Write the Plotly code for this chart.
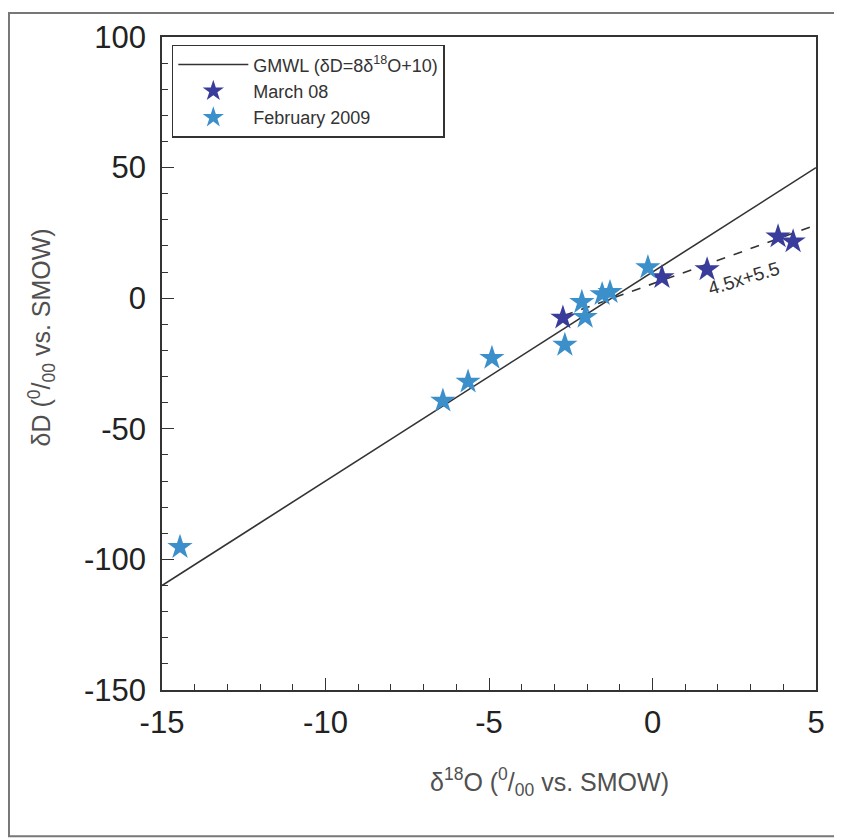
import plotly.graph_objects as go

# ---- data ----
march_x = [-2.74, 0.29, 1.67, 3.84, 4.30]
march_y = [-7.5, 8.0, 11.0, 23.6, 21.7]

feb_x = [-14.45, -6.41, -5.64, -4.91, -2.68, -2.16, -2.06, -1.54, -1.30, -0.14]
feb_y = [-95.3, -39.3, -32.0, -22.9, -17.9, -1.5, -7.2, 1.5, 2.3, 11.8]

gmwl_slope, gmwl_intercept = 8.0, 10.0
gmwl_x = [-15, 5]
gmwl_y = [gmwl_slope * v + gmwl_intercept for v in gmwl_x]

fit_slope, fit_intercept = 4.5, 5.5
fit_x = [-2.7, 5]
fit_y = [fit_slope * v + fit_intercept for v in fit_x]

x_ticks = [-15, -10, -5, 0, 5]
x_ticktext = ["-15", "-10", "-5", "0", "5"]
y_ticks = [-150, -100, -50, 0, 50, 100]
y_ticktext = ["-150", "-100", "-50", "0", "50", "100"]

DARK = "#3A3C9C"
LIGHT = "#3B8FCB"
FONT = "Liberation Sans, Arial, sans-serif"

fig = go.Figure()
fig.add_trace(go.Scatter(x=gmwl_x, y=gmwl_y, mode="lines",
                         line=dict(color="#333333", width=1.6),
                         name="GMWL (δD=8δ<sup>18</sup>O+10)"))
fig.add_trace(go.Scatter(x=fit_x, y=fit_y, mode="lines",
                         line=dict(color="#333333", width=1.6, dash="dash"),
                         showlegend=False))
fig.add_trace(go.Scatter(x=march_x, y=march_y, mode="markers",
                         marker=dict(symbol="star", size=19, color=DARK,
                                     line=dict(width=0)),
                         name="March 08"))
fig.add_trace(go.Scatter(x=feb_x, y=feb_y, mode="markers",
                         marker=dict(symbol="star", size=19, color=LIGHT,
                                     line=dict(width=0)),
                         name="February 2009"))

fig.add_annotation(x=2.77, y=7.6, text="4.5x+5.5", showarrow=False,
                   textangle=-17, font=dict(size=19, color="#333333", family=FONT))

# axis titles
fig.add_annotation(xref="paper", yref="paper", x=-0.214, y=0.54,
                   text="δD (<sup>0</sup>/<sub>00</sub> vs. SMOW)", showarrow=False,
                   textangle=-90, font=dict(size=25, color="#505050", family=FONT))
fig.add_annotation(xref="paper", yref="paper", x=0.593, y=-0.171,
                   text="δ<sup>18</sup>O (<sup>0</sup>/<sub>00</sub> vs. SMOW)",
                   showarrow=False, font=dict(size=25, color="#505050", family=FONT))

# outer frame
fig.add_shape(type="rect", xref="paper", yref="paper",
              x0=-0.234, x1=1.12, y0=-0.224, y1=1.0366,
              line=dict(color="#777777", width=2), layer="below")

axis_common = dict(showgrid=False, zeroline=False, showline=True, mirror=True,
                   linecolor="#333333", linewidth=1.6, ticks="inside",
                   tickcolor="#333333", tickwidth=1.4,
                   tickfont=dict(size=31, color="#222222", family=FONT))

fig.update_xaxes(range=[-15, 5], tickvals=x_ticks, ticktext=x_ticktext, ticklen=12,
                 minor=dict(dtick=1, ticks="inside", ticklen=6,
                            tickcolor="#333333", tickwidth=1.2),
                 ticklabelstandoff=4, **axis_common)
fig.update_yaxes(range=[-150, 100], tickvals=y_ticks, ticktext=y_ticktext, ticklen=12,
                 minor=dict(dtick=10, ticks="inside", ticklen=6,
                            tickcolor="#333333", tickwidth=1.2),
                 ticklabelstandoff=8, **axis_common)

fig.update_layout(
    width=842, height=838,
    margin=dict(l=154, r=34, t=26, b=156),
    paper_bgcolor="white", plot_bgcolor="white",
    font=dict(family=FONT),
    legend=dict(x=0.015, y=0.988, xanchor="left", yanchor="top",
                bgcolor="white", bordercolor="#333333", borderwidth=1.5,
                font=dict(size=18, color="#333333", family=FONT),
                tracegroupgap=0, itemwidth=70),
)

fig.write_html("out.html")
